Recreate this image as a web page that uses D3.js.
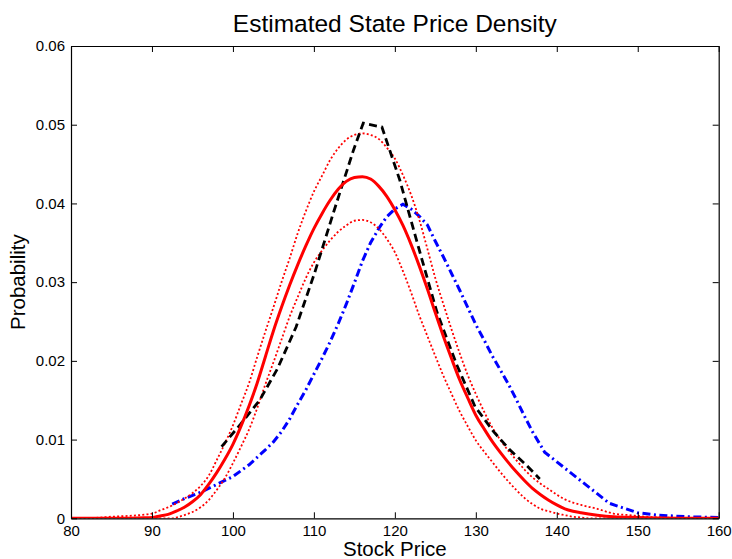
<!DOCTYPE html>
<html>
<head>
<meta charset="utf-8">
<script src="https://cdn.jsdelivr.net/npm/d3@7"></script>
<style>
  html, body { margin: 0; padding: 0; background: #fff; }
  svg { display: block; font-family: "Liberation Sans", Arial, Helvetica, sans-serif; }
</style>
</head>
<body>
<svg id="chart" width="732" height="559"></svg>
<script>
// ---- Data ----
const xTicks = [80, 90, 100, 110, 120, 130, 140, 150, 160];
const yTicks = [0, 0.01, 0.02, 0.03, 0.04, 0.05, 0.06];
const yTickLabels = ["0", "0.01", "0.02", "0.03", "0.04", "0.05", "0.06"];

// Estimated SPD (red solid)
const spdX = [80,84,87,89,90,91,92,93,94,95,96,97,98,99,100,101,102,103,104,105,106,107,108,109,110,111,112,113,114,115,116,117,118,119,120,121,122,123,124,125,126,127,128,129,130,131,132,133,134,135,136,137,138,139,140,141,142,143,145,147,150,155,160];
const spdY = [0,0,0.00002,0.00006,0.0001,0.0003,0.0005,0.0009,0.0014,0.0021,0.003,0.0043,0.0058,0.0075,0.0094,0.0117,0.0143,0.0172,0.0205,0.0238,0.0268,0.0296,0.0322,0.0346,0.0368,0.0387,0.0404,0.0418,0.0428,0.0433,0.0434,0.0431,0.0422,0.0409,0.0392,0.0372,0.0348,0.0321,0.0292,0.0261,0.0231,0.0203,0.0176,0.0153,0.0131,0.0114,0.0098,0.0084,0.0071,0.0059,0.0048,0.0038,0.003,0.0023,0.0017,0.0012,0.0009,0.0007,0.0004,0.0002,0.0001,0.00002,0];

// Upper confidence band (red dotted)
const upperX = [80,83,85,87,90,91,92,93,94,95,96,97,98,99,100,101,102,103,104,105,106,107,108,109,110,111,112,113,114,115,116,117,118,119,120,121,122,123,124,125,126,127,128,129,130,131,132,133,134,135,136,137,138,139,140,141,142,143,145,147,149,151,155,160];
const upperY = [0,0.00005,0.0002,0.0003,0.0006,0.001,0.0014,0.0019,0.0025,0.0032,0.0041,0.0054,0.0074,0.0095,0.0118,0.0145,0.0172,0.0205,0.0237,0.0268,0.03,0.033,0.0362,0.039,0.0415,0.0435,0.0455,0.047,0.0481,0.0487,0.0489,0.0487,0.0482,0.0471,0.0457,0.0436,0.0411,0.038,0.0343,0.0305,0.0272,0.024,0.021,0.0182,0.0158,0.0136,0.0116,0.01,0.0086,0.0074,0.0062,0.0052,0.0044,0.0037,0.003,0.0024,0.002,0.0017,0.0012,0.0006,0.0004,0.0002,0.00005,0];

// Lower confidence band (red dotted)
const lowerX = [80,90,92,92.6,93,94,95,96,97,98,99,100,101,102,103,104,105,106,107,108,109,110,111,112,113,114,115,116,117,118,119,120,121,122,123,124,125,126,127,128,129,130,131,132,133,134,135,136,137,138,139,140,141,142,143,144,160];
const lowerY = [0,0,0,0,0.0001,0.0004,0.0008,0.0014,0.0023,0.0036,0.0051,0.007,0.0091,0.0113,0.014,0.017,0.0198,0.0227,0.0256,0.0281,0.0305,0.0325,0.034,0.0353,0.0364,0.0372,0.0378,0.0379,0.0376,0.0368,0.0355,0.0338,0.0314,0.0287,0.0258,0.0232,0.0206,0.0181,0.0158,0.0136,0.0117,0.0099,0.0085,0.0072,0.0059,0.0047,0.0036,0.0026,0.0018,0.0012,0.0009,0.0006,0.0004,0.0002,0.0001,0,0];

// Black dashed series
const dashX = [98.6,100.9,103.3,105.5,107.8,110.1,112.5,114.9,116.1,118.4,120.6,122.9,125.2,127.6,129.9,132.2,134.2,136.2,137.9];
const dashY = [0.0091,0.0119,0.015,0.019,0.0243,0.0312,0.0391,0.0468,0.0502,0.0497,0.043,0.0345,0.0262,0.0196,0.0142,0.011,0.0087,0.0068,0.005];

// Blue dash-dot series
const blueX = [92.5,94,96,98,100,102,104,105,106,107,108,109,110,111,112,113,114,115,116,117,118,119,120,121,122,123,124,125,126,127,128,129,130,131,132,133,134,135,136,137,138.5,146.5,150,152.5,156,160];
const blueY = [0.0018,0.0025,0.0033,0.0043,0.0053,0.0068,0.0087,0.0097,0.011,0.0126,0.0145,0.0163,0.0183,0.0203,0.0224,0.0247,0.0272,0.0299,0.0327,0.035,0.0368,0.0383,0.0393,0.0399,0.0393,0.0384,0.0373,0.0352,0.0332,0.0311,0.029,0.0268,0.0246,0.0227,0.0207,0.0189,0.0171,0.0151,0.013,0.011,0.0084,0.0019,0.0007,0.0004,0.0002,0.0001];

// ---- Layout ----
const L = 71, R = 718.7, T = 46, B = 518.3;
const svg = d3.select("#chart");
const x = d3.scaleLinear().domain([80, 160]).range([L, R]);
const y = d3.scaleLinear().domain([0, 0.06]).range([B, T]);

svg.append("defs").append("clipPath").attr("id", "clip")
  .append("rect").attr("x", L).attr("y", T).attr("width", R - L).attr("height", B - T);

const zip = (xs, ys) => xs.map((v, i) => [v, ys[i]]);
const smooth = d3.line().x(d => x(d[0])).y(d => y(d[1])).curve(d3.curveMonotoneX);
const straight = d3.line().x(d => x(d[0])).y(d => y(d[1]));

const g = svg.append("g").attr("clip-path", "url(#clip)");

g.append("path").attr("d", straight(zip(blueX, blueY)))
  .attr("fill", "none").attr("stroke", "#0000ff").attr("stroke-width", 3)
  .attr("stroke-dasharray", "8,3.5,2,3.5");
g.append("path").attr("d", smooth(zip(upperX, upperY)))
  .attr("fill", "none").attr("stroke", "#ff0000").attr("stroke-width", 1.8)
  .attr("stroke-dasharray", "2,2.2");
g.append("path").attr("d", smooth(zip(lowerX, lowerY)))
  .attr("fill", "none").attr("stroke", "#ff0000").attr("stroke-width", 1.8)
  .attr("stroke-dasharray", "2,2.2");
g.append("path").attr("d", straight(zip(dashX, dashY)))
  .attr("fill", "none").attr("stroke", "#000").attr("stroke-width", 2.8)
  .attr("stroke-dasharray", "8,4.5");
g.append("path").attr("d", smooth(zip(spdX, spdY)))
  .attr("fill", "none").attr("stroke", "#ff0000").attr("stroke-width", 3);

// ---- Axes (MATLAB-style box, inward ticks) ----
const tickLen = 6;
const axB = svg.append("g").attr("transform", `translate(0,${B})`)
  .call(d3.axisBottom(x).tickValues(xTicks).tickSizeInner(-tickLen).tickSizeOuter(0).tickPadding(6));
const axT = svg.append("g").attr("transform", `translate(0,${T})`)
  .call(d3.axisTop(x).tickValues(xTicks).tickSizeInner(-tickLen).tickSizeOuter(0).tickFormat(""));
const axL = svg.append("g").attr("transform", `translate(${L},0)`)
  .call(d3.axisLeft(y).tickValues(yTicks).tickSizeInner(-tickLen).tickSizeOuter(0).tickPadding(6)
    .tickFormat((d, i) => yTickLabels[i]));
const axR = svg.append("g").attr("transform", `translate(${R},0)`)
  .call(d3.axisRight(y).tickValues(yTicks).tickSizeInner(-tickLen).tickSizeOuter(0).tickFormat(""));

[axB, axT, axL, axR].forEach(a => {
  a.selectAll("path.domain").attr("stroke", "#000").attr("stroke-width", 1.2);
  a.selectAll(".tick line").attr("stroke", "#000").attr("stroke-width", 1);
  a.selectAll("text").attr("fill", "#000").style("font-size", "15px")
    .style("font-family", '"Liberation Sans", Arial, Helvetica, sans-serif');
});
axB.selectAll(".tick text").attr("dy", "0.75em");

// ---- Titles ----
svg.append("text").attr("x", (L + R) / 2).attr("y", 32).attr("text-anchor", "middle")
  .style("font-size", "24.5px").attr("fill", "#000").text("Estimated State Price Density");
svg.append("text").attr("x", (L + R) / 2).attr("y", 556).attr("text-anchor", "middle")
  .style("font-size", "20.5px").attr("fill", "#000").text("Stock Price");
svg.append("text").attr("transform", `translate(25,${(T + B) / 2}) rotate(-90)`)
  .attr("text-anchor", "middle").style("font-size", "20.5px").attr("fill", "#000").text("Probability");
</script>
</body>
</html>
